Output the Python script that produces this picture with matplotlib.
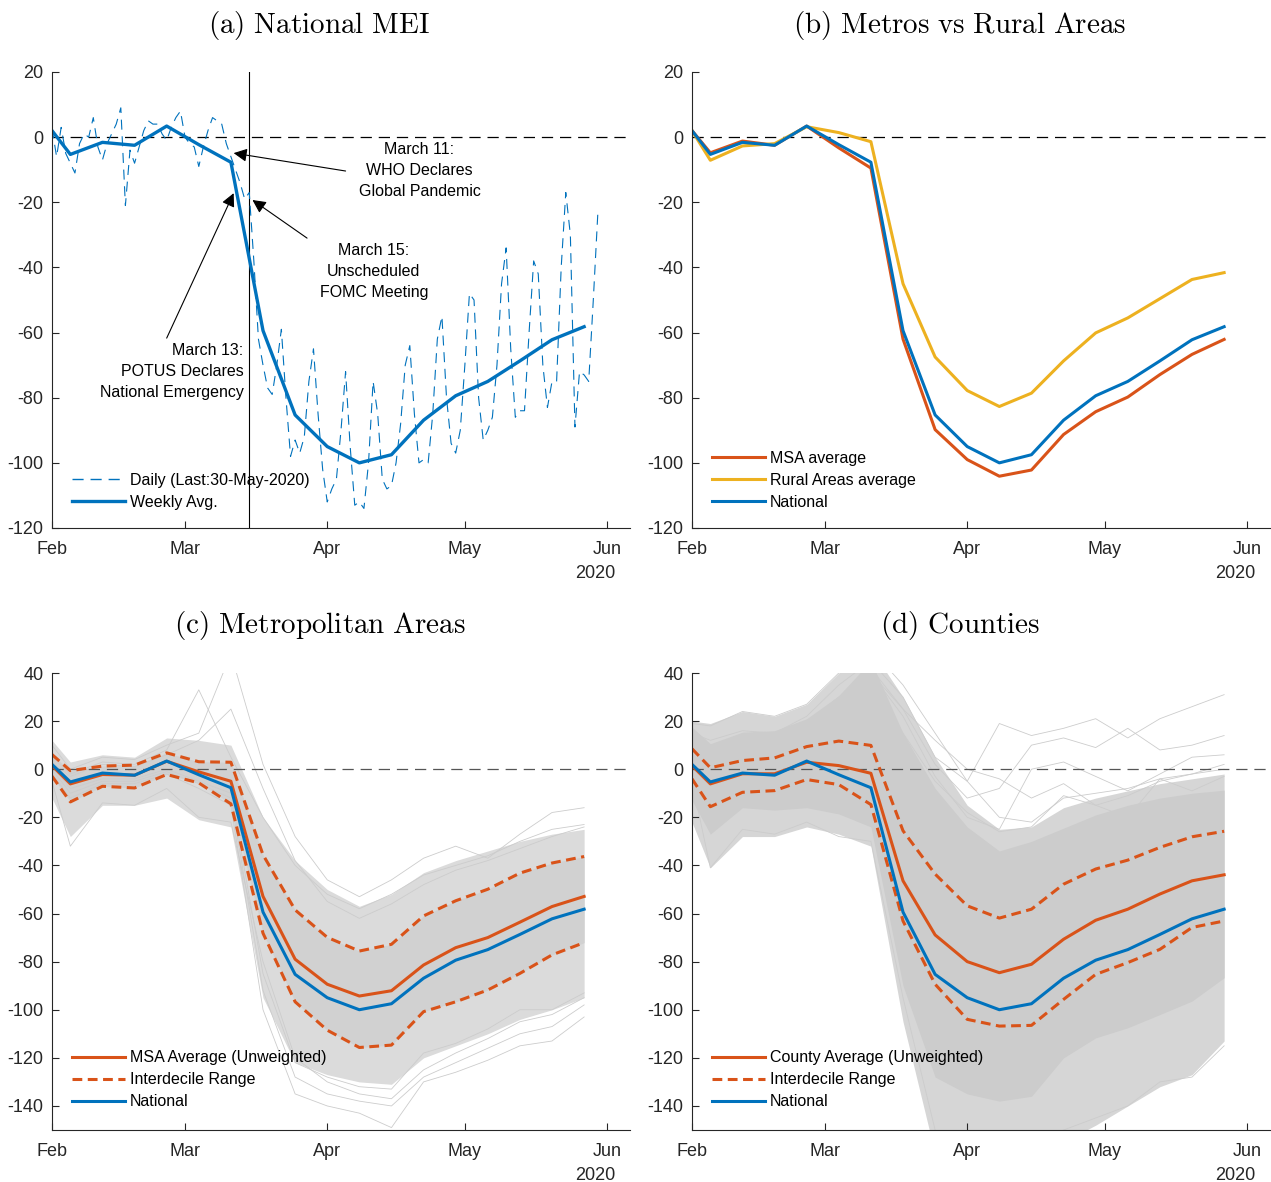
import numpy as np
import matplotlib
matplotlib.use('Agg')
from matplotlib import pyplot as plt
import matplotlib.dates as mdates
from matplotlib.lines import Line2D

plt.rcParams['font.family'] = ['Liberation Sans', 'DejaVu Sans']
plt.rcParams['axes.unicode_minus'] = False
plt.rcParams['mathtext.fontset'] = 'cm'

# Weekly dates used by all the averaged series
weeks = np.array(['2020-02-01', '2020-02-05', '2020-02-12', '2020-02-19', '2020-02-26',
                  '2020-03-04', '2020-03-11', '2020-03-18', '2020-03-25', '2020-04-01',
                  '2020-04-08', '2020-04-15', '2020-04-22', '2020-04-29', '2020-05-06',
                  '2020-05-13', '2020-05-20', '2020-05-27'], dtype='datetime64[D]')

# National MEI, daily (Feb 1 .. May 30) and weekly
days = np.arange('2020-02-01', '2020-05-31', dtype='datetime64[D]')
daily = [2.7, -6, 3, -5, -8, -11, -2, 1, 0, 6,
         -3, -7, -2, 1, 4, 9, -21, -4, -8, -3,
         2, 5, 4, 4, 1, -1, 3, 6, 8, 0,
         -2, -3, -9, -3, 2, 6, 5, 4, -2, -6,
         -10, -14, -19, -17, -38, -62, -70, -77, -79, -70,
         -59, -80, -98, -93, -97, -92, -75, -65, -85, -102,
         -112, -108, -105, -90, -72, -95, -113, -112, -114, -100,
         -75, -85, -105, -108, -107, -100, -88, -70, -64, -85,
         -100, -99, -100, -85, -62, -55, -80, -94, -97, -90,
         -70, -48, -50, -80, -93, -90, -86, -70, -45, -34,
         -65, -86, -84, -84, -60, -38, -42, -70, -83, -75,
         -75, -40, -17, -30, -89, -72, -73, -75, -50, -23]
national = [2, -5.3, -1.6, -2.5, 3.4, -2.3, -7.7, -59.4, -85.3, -95,
            -100, -97.5, -86.9, -79.4, -75, -68.7, -62.2, -58.2]

# Panel (b)
msa_avg = [2, -4.8, -1.2, -2.5, 3.4, -3.3, -9.5, -62, -89.8, -99,
           -104.1, -102.2, -91.3, -84.3, -79.8, -72.9, -66.7, -62.1]
rural_avg = [2, -7.1, -2.7, -2, 3.2, 1.4, -1.4, -45, -67.5, -77.8,
             -82.7, -78.6, -68.7, -60.1, -55.5, -49.6, -43.7, -41.6]

# Panel (c): metro areas
msa_unw = [1.5, -6.1, -2.2, -2.5, 3.3, -1.1, -5, -52.9, -79, -89.4,
           -94.3, -92.1, -81.4, -74.2, -70, -63.6, -57.1, -52.9]
msa_p90 = [6.1, -0.6, 1.3, 1.7, 6.8, 3.1, 2.9, -35.6, -58.5, -69.9,
           -75.6, -72.8, -61, -54.7, -49.9, -43.2, -39, -36.3]
msa_p10 = [-2.9, -13.6, -7.1, -7.8, -2.2, -5.7, -14.4, -68.2, -96.7, -108.5,
           -115.7, -114.7, -100.8, -96.7, -91.8, -84.9, -77.2, -72.1]
msa_hi = [12, 3, 6, 5, 13, 12, 10, -20, -38, -50, -57, -52, -43, -38, -34, -30, -27, -25]
msa_lo = [-12, -28, -15, -15, -12, -21, -24, -95, -122, -127, -130, -131, -120, -115, -110, -104, -100, -95]
msa_lines = [
    [10, 0, 5, 4, 10, 15, 48, 2, -28, -46, -53, -46, -37, -32, -37, -27, -18, -16],
    [5, -2, 3, 2, 8, 33, 5, -20, -40, -52, -58, -52, -44, -40, -36, -30, -25, -23],
    [3, -3, 2, 1, 6, 12, 25, -8, -38, -55, -62, -56, -48, -42, -38, -33, -28, -24],
    [-5, -32, -14, -15, -8, -20, -22, -80, -120, -130, -135, -137, -125, -118, -112, -105, -102, -95],
    [-2, -12, -6, -6, -2, -8, -15, -100, -135, -140, -143, -149, -130, -126, -121, -115, -113, -103],
    [0, -10, -5, -5, -1, -6, -12, -92, -128, -135, -138, -140, -128, -122, -116, -110, -107, -98],
    [1, -8, -4, -4, 0, -5, -10, -85, -122, -128, -132, -133, -118, -114, -108, -100, -100, -93],
]

# Panel (d): counties
cty_unw = [1.5, -6.1, -1.9, -1.9, 2.9, 1.5, -1.7, -46.4, -68.9, -80,
           -84.6, -81.1, -70.7, -62.8, -58.2, -51.9, -46.4, -43.9]
cty_p90 = [8.5, 0.6, 3.6, 4.7, 9.4, 11.7, 9.9, -25.6, -43.6, -56.8,
           -61.9, -58.2, -47.8, -41.5, -37.8, -32.5, -28.1, -25.8]
cty_p10 = [-4, -15.6, -9.6, -8.9, -4.3, -6.4, -14.7, -63.1, -89.4, -104,
           -106.8, -106.5, -95.7, -85.3, -80.4, -74.9, -65.8, -63.1]
cty_hi = [20, 19, 24, 22, 27, 40, 50, 30, 5, -15, -25, -24, -16, -12, -9, -6, -4, -2]
cty_lo = [-22, -41, -28, -28, -24, -27, -32, -105, -160, -165, -165, -165, -155, -148, -140, -132, -127, -113]
cty_core_hi = [17.5, 10.6, 15.4, 16, 21, 30.6, 45, 15, -8, -24, -34, -30, -24.5, -19, -15, -12, -10, -8.7]
cty_core_lo = [-13, -27, -16, -17, -16, -18.6, -24, -90, -128, -135, -138, -136, -120, -111.7, -107.5, -102, -96.4, -86.7]
cty_lines = [
    [15, 12, 16, 15, 22, 35, 45, 30, 5, -5, 19, 14, 17, 21, 13, 21, 26, 31],
    [10, 8, 12, 12, 18, 30, 42, 25, 2, -12, -8, 10, 13, 9, 17, 8, 10, 14],
    [8, 5, 10, 10, 16, 28, 40, 22, -3, -20, -25, 0, 3, -3, -9, -2, 5, 6],
    [5, 2, 8, 8, 14, 25, 40, 25, 12, 0, -4, -12, -6, -15, -11, -5, -2, 0],
    [4, 0, 6, 6, 12, 22, 35, 15, -5, -18, -26, -24, -11, -15, -20, -4, -9, -3],
    [-5, -41, -25, -27, -22, -28, -30, -95, -150, -158, -160, -158, -150, -145, -140, -130, -128, -115],
    [19, 18, 24, 22, 27, 40, 50, 35, 15, -5, -20, -22, -12, -10, -8, -4, -2, 2],
]

month_ticks = np.array(['2020-02-01', '2020-03-01', '2020-04-01', '2020-05-01', '2020-06-01'],
                       dtype='datetime64[D]')
month_labels = ['Feb', 'Mar', 'Apr', 'May', 'Jun']

BLUE = '#0072BD'
ORANGE = '#D95319'
YELLOW = '#EDB120'
GREY = '#cccccc'
AXC = '#262626'

W, H = 1271, 1182
fig = plt.figure(figsize=(W / 100, H / 100), dpi=100)


def make_axes(left, top, right, bottom):
    return fig.add_axes([left / W, (H - bottom) / H, (right - left) / W, (bottom - top) / H])


ax_a = make_axes(52, 72, 630, 528)
ax_b = make_axes(692, 72, 1270, 528)
ax_c = make_axes(52, 673, 630, 1130)
ax_d = make_axes(692, 673, 1270, 1130)

xw = mdates.date2num(weeks)
xd = mdates.date2num(days)
t0 = mdates.date2num(np.datetime64('2020-02-01'))

for ax in (ax_a, ax_b, ax_c, ax_d):
    ax.set_xlim(t0, mdates.date2num(np.datetime64('2020-06-06')))
    ax.set_xticks(mdates.date2num(month_ticks))
    ax.set_xticklabels(month_labels)
    ax.spines['top'].set_visible(False)
    ax.spines['right'].set_visible(False)
    for s in ('left', 'bottom'):
        ax.spines[s].set_color(AXC)
        ax.spines[s].set_linewidth(0.8)
    ax.tick_params(direction='in', length=5, width=0.8, color=AXC, labelcolor=AXC, labelsize=13)
    ax.tick_params(axis='x', pad=9)
    ax.tick_params(axis='y', pad=6)
    ax.text(0.975, -0.1, '2020', transform=ax.transAxes, ha='right', va='center',
            fontsize=13, color=AXC)

legend_kw = dict(loc='lower left', frameon=False, fontsize=11.5, handlelength=3.3,
                 handletextpad=0.3, labelspacing=0.44, borderpad=0, borderaxespad=0)

# (a) National MEI
ax_a.set_ylim(-120, 20)
ax_a.set_yticks(range(-120, 21, 20))
ax_a.axhline(0, color='k', lw=0.9, dashes=(9, 5.5))
ax_a.axvline(mdates.date2num(np.datetime64('2020-03-15')), color='k', lw=0.8)
ax_a.plot(xd, daily, color=BLUE, lw=0.8, dashes=(9, 6))
ax_a.plot(xw, national, color=BLUE, lw=2.4)
leg_a = [Line2D([], [], color=BLUE, lw=1.0, dashes=(8, 5)),
         Line2D([], [], color=BLUE, lw=2.4)]
ax_a.legend(leg_a, ['Daily (Last:30-May-2020)', 'Weekly Avg.'],
            bbox_to_anchor=(20 / 578, 0.04), **legend_kw)

arrow = dict(arrowstyle='-|>', color='k', lw=0.8, mutation_scale=20, shrinkA=0, shrinkB=0)
ax_a.annotate('', xy=(t0 + 39.6, -4.9), xytext=(t0 + 64, -10.4), arrowprops=arrow)
ax_a.annotate('', xy=(t0 + 43.7, -19.3), xytext=(t0 + 55.6, -31), arrowprops=arrow)
ax_a.annotate('', xy=(t0 + 39.6, -17.2), xytext=(t0 + 25, -61.7), arrowprops=arrow)
ax_a.text(t0 + 93.4, -10.1, 'March 11:\nWHO Declares\nGlobal Pandemic', ha='right',
          va='center', fontsize=11.5, multialignment='center', linespacing=1.5)
ax_a.text(t0 + 82, -41.4, 'March 15:\nUnscheduled\nFOMC Meeting', ha='right',
          va='center', fontsize=11.5, multialignment='center', linespacing=1.5)
ax_a.text(t0 + 41.8, -72, 'March 13:\nPOTUS Declares\nNational Emergency', ha='right',
          va='center', fontsize=11.5, multialignment='right', linespacing=1.5)

# (b) Metros vs Rural
ax_b.set_ylim(-120, 20)
ax_b.set_yticks(range(-120, 21, 20))
ax_b.axhline(0, color='k', lw=0.9, dashes=(9, 5.5))
ax_b.plot(xw, msa_avg, color=ORANGE, lw=2.2, label='MSA average')
ax_b.plot(xw, rural_avg, color=YELLOW, lw=2.2, label='Rural Areas average')
ax_b.plot(xw, national, color=BLUE, lw=2.2, label='National')
ax_b.legend(bbox_to_anchor=(20 / 578, 0.04), **legend_kw)

# (c) Metropolitan areas
ax_c.set_ylim(-150, 40)
ax_c.set_yticks(range(-140, 41, 20))
ax_c.fill_between(xw, msa_lo, msa_hi, color='#dbdbdb', lw=0)
ax_c.fill_between(xw, msa_p10, msa_p90, color='#d1d1d1', lw=0)
for ln in msa_lines:
    ax_c.plot(xw, ln, color=GREY, lw=0.6)
ax_c.axhline(0, color='#555555', lw=0.9, dashes=(9, 5.5))
ax_c.plot(xw, msa_unw, color=ORANGE, lw=2.2, label='MSA Average (Unweighted)')
ax_c.plot(xw, msa_p90, color=ORANGE, lw=2.2, dashes=(3.2, 1.8), label='Interdecile Range')
ax_c.plot(xw, msa_p10, color=ORANGE, lw=2.2, dashes=(3.2, 1.8))
ax_c.plot(xw, national, color=BLUE, lw=2.2, label='National')
ax_c.legend(bbox_to_anchor=(20 / 578, 0.045), **legend_kw)

# (d) Counties
ax_d.set_ylim(-150, 40)
ax_d.set_yticks(range(-140, 41, 20))
ax_d.fill_between(xw, cty_lo, cty_hi, color='#d6d6d6', lw=0)
ax_d.fill_between(xw, cty_core_lo, cty_core_hi, color='#cccccc', lw=0)
for ln in cty_lines:
    ax_d.plot(xw, ln, color=GREY, lw=0.6)
ax_d.axhline(0, color='#555555', lw=0.9, dashes=(9, 5.5))
ax_d.plot(xw, cty_unw, color=ORANGE, lw=2.2, label='County Average (Unweighted)')
ax_d.plot(xw, cty_p90, color=ORANGE, lw=2.2, dashes=(3.2, 1.8), label='Interdecile Range')
ax_d.plot(xw, cty_p10, color=ORANGE, lw=2.2, dashes=(3.2, 1.8))
ax_d.plot(xw, national, color=BLUE, lw=2.2, label='National')
ax_d.legend(bbox_to_anchor=(20 / 578, 0.045), **legend_kw)

# Panel titles (LaTeX-like serif)
fig.text(319 / W, 1 - 25 / H, r'$\mathrm{(a)\ National\ MEI}$', ha='center', va='center', fontsize=21)
fig.text(960 / W, 1 - 25 / H, r'$\mathrm{(b)\ Metros\ vs\ Rural\ Areas}$', ha='center', va='center', fontsize=21)
fig.text(320 / W, 1 - 625 / H, r'$\mathrm{(c)\ Metropolitan\ Areas}$', ha='center', va='center', fontsize=21)
fig.text(960 / W, 1 - 625 / H, r'$\mathrm{(d)\ Counties}$', ha='center', va='center', fontsize=21)

fig.savefig('out.png', dpi=100)
